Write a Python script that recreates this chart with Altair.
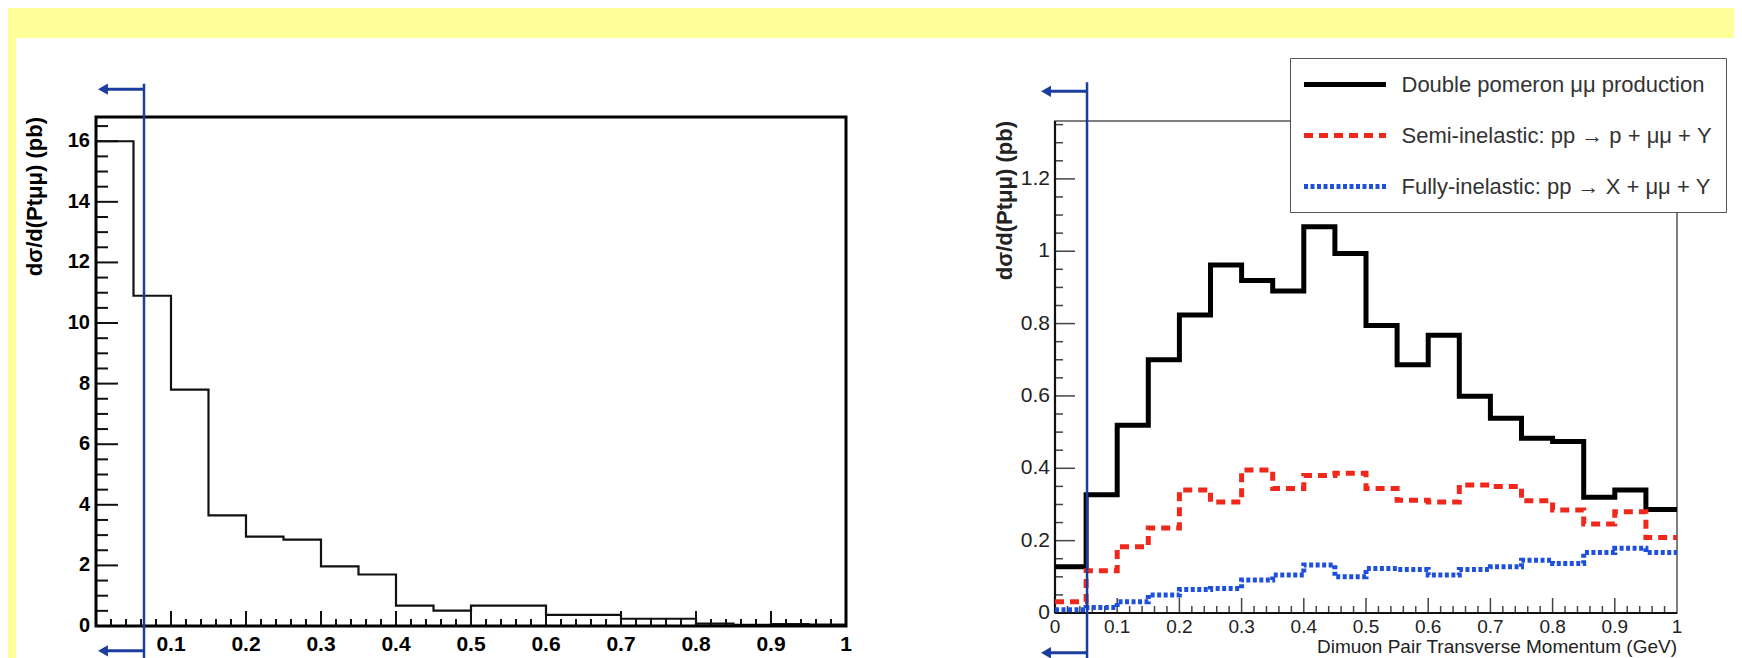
import altair as alt
import pandas as pd

# ---------------- data ----------------
bin_edges = [0.0, 0.05, 0.1, 0.15, 0.2, 0.25, 0.3, 0.35, 0.4, 0.45, 0.5,
             0.55, 0.6, 0.65, 0.7, 0.75, 0.8, 0.85, 0.9, 0.95, 1.0]

# left panel: d(sigma)/d(Pt) in pb, 0.05 GeV bins
left_xsec = [16.0, 10.9, 7.8, 3.65, 2.95, 2.85, 1.97, 1.70, 0.67, 0.51,
             0.67, 0.67, 0.37, 0.37, 0.24, 0.24, 0.08, 0.04, 0.06, 0.05]

# right panel, three processes
dpe_xsec = [0.128, 0.327, 0.519, 0.700, 0.824, 0.962, 0.919, 0.890, 1.068, 0.994,
            0.795, 0.686, 0.768, 0.599, 0.538, 0.483, 0.474, 0.320, 0.340, 0.286]
semi_xsec = [0.031, 0.117, 0.183, 0.235, 0.340, 0.307, 0.395, 0.344, 0.380, 0.386,
             0.344, 0.312, 0.307, 0.354, 0.350, 0.310, 0.285, 0.246, 0.280, 0.209]
full_xsec = [0.009, 0.015, 0.031, 0.050, 0.065, 0.068, 0.091, 0.105, 0.133, 0.100,
             0.123, 0.120, 0.105, 0.120, 0.128, 0.146, 0.137, 0.167, 0.179, 0.167]

series_names = ["Double pomeron \u03bc\u03bc production",
                "Semi-inelastic: pp \u2192 p + \u03bc\u03bc + Y",
                "Fully-inelastic: pp \u2192 X + \u03bc\u03bc + Y"]
series_colors = ["#000000", "#f0281c", "#1e50dc"]
series_dashes = [[1, 0], [9, 6], [4, 2.5]]

left_x_labels = [0.1, 0.2, 0.3, 0.4, 0.5, 0.6, 0.7, 0.8, 0.9, 1.0]
left_y_labels = [0, 2, 4, 6, 8, 10, 12, 14, 16]
right_x_labels = [0, 0.1, 0.2, 0.3, 0.4, 0.5, 0.6, 0.7, 0.8, 0.9, 1.0]
right_y_labels = [0, 0.2, 0.4, 0.6, 0.8, 1.0, 1.2]

x_major_ticks = [0.1, 0.2, 0.3, 0.4, 0.5, 0.6, 0.7, 0.8, 0.9]
x_minor_ticks = [round(i * 0.02, 2) for i in range(1, 50) if i % 5 != 0]
left_y_major_ticks = [2, 4, 6, 8, 10, 12, 14, 16]
left_y_minor_ticks = [i * 0.5 for i in range(1, 34) if i % 4 != 0]
right_y_major_ticks = [0.2, 0.4, 0.6, 0.8, 1.0, 1.2]
right_y_minor_ticks = [round(i * 0.05, 2) for i in range(1, 28) if i % 4 != 0]

cut_left = 0.064     # Pt cut shown by the blue line, left panel
cut_right = 0.0515   # Pt cut shown by the blue line, right panel

y_title = "d\u03c3/d(Pt\u03bc\u03bc) (pb)"
x_title = "Dimuon Pair Transverse Momentum (GeV)"

FONT = "Liberation Sans"
CUT_BLUE = "#1b3d9e"

LEFT_W, RIGHT_W, H = 854, 864, 620
LEFT_YMAX, RIGHT_YMAX = 16.8, 1.36

xs_l = alt.Scale(domain=[0, 1], range=[80, 830], nice=False, zero=False)
ys_l = alt.Scale(domain=[0, LEFT_YMAX], range=[588, 79], nice=False, zero=False)
xs_r = alt.Scale(domain=[0, 1], range=[185, 807], nice=False, zero=False)
ys_r = alt.Scale(domain=[0, RIGHT_YMAX], range=[575, 83], nice=False, zero=False)


def step_frame(values, name):
    return pd.DataFrame({"pt": bin_edges, "xsec": values + [values[-1]], "series": name})


def x_ticks(values, xs, ys, size, thick, color):
    df = pd.DataFrame({"t": values, "b": [0] * len(values)})
    return alt.Chart(df).mark_tick(orient="vertical", size=size, thickness=thick,
                                   color=color, opacity=1, yOffset=-size / 2).encode(
        x=alt.X("t:Q", scale=xs, axis=None), y=alt.Y("b:Q", scale=ys, axis=None))


def y_ticks(values, xs, ys, size, thick, color):
    df = pd.DataFrame({"t": values, "b": [0] * len(values)})
    return alt.Chart(df).mark_tick(orient="horizontal", size=size, thickness=thick,
                                   color=color, opacity=1, xOffset=size / 2).encode(
        x=alt.X("b:Q", scale=xs, axis=None), y=alt.Y("t:Q", scale=ys, axis=None))


def x_labels(values, xs, ys, size, weight, color, dy):
    df = pd.DataFrame({"v": values, "b": [0] * len(values),
                       "txt": ["{:g}".format(v) for v in values]})
    return alt.Chart(df).mark_text(align="center", baseline="top", dy=dy, font=FONT,
                                   fontSize=size, fontWeight=weight, color=color).encode(
        x=alt.X("v:Q", scale=xs, axis=None), y=alt.Y("b:Q", scale=ys, axis=None),
        text="txt:N")


def y_labels(values, xs, ys, size, weight, color, dx):
    df = pd.DataFrame({"v": values, "b": [0] * len(values),
                       "txt": ["{:g}".format(v) for v in values]})
    return alt.Chart(df).mark_text(align="right", baseline="middle", dx=dx, font=FONT,
                                   fontSize=size, fontWeight=weight, color=color).encode(
        x=alt.X("b:Q", scale=xs, axis=None), y=alt.Y("v:Q", scale=ys, axis=None),
        text="txt:N")


def y_title_mark(xs, ys, xpos, ymax, size, color):
    df = pd.DataFrame({"x": [xpos], "y": [ymax], "txt": [y_title]})
    return alt.Chart(df).mark_text(angle=270, align="right", baseline="middle", font=FONT,
                                   fontSize=size, fontWeight="bold", color=color).encode(
        x=alt.X("x:Q", scale=xs, axis=None), y=alt.Y("y:Q", scale=ys, axis=None),
        text="txt:N")


def frame(xs, ys, ymax, color, width):
    df = pd.DataFrame({"x0": [0], "x1": [1], "y0": [0], "y1": [ymax]})
    return alt.Chart(df).mark_rect(fillOpacity=0, stroke=color, strokeWidth=width).encode(
        x=alt.X("x0:Q", scale=xs, axis=None), x2="x1:Q",
        y=alt.Y("y0:Q", scale=ys, axis=None), y2="y1:Q")


def cut_marks(xs, ys, cut, top, bottom, arrow_top, arrow_bottom, arrow_end):
    line = alt.Chart(pd.DataFrame({"c": [cut], "t": [top], "b": [bottom]})).mark_rule(
        color=CUT_BLUE, strokeWidth=2.5).encode(
        x=alt.X("c:Q", scale=xs, axis=None),
        y=alt.Y("t:Q", scale=ys, axis=None), y2="b:Q")
    arr = pd.DataFrame({"c": [cut, cut], "e": [arrow_end, arrow_end],
                        "y": [arrow_top, arrow_bottom]})
    shaft = alt.Chart(arr).mark_rule(color=CUT_BLUE, strokeWidth=3).encode(
        x=alt.X("c:Q", scale=xs, axis=None), x2="e:Q",
        y=alt.Y("y:Q", scale=ys, axis=None))
    head = alt.Chart(arr).mark_point(shape="triangle-left", filled=True, size=130,
                                     color=CUT_BLUE, opacity=1).encode(
        x=alt.X("e:Q", scale=xs, axis=None), y=alt.Y("y:Q", scale=ys, axis=None))
    return [line, shaft, head]


# ---------------- left panel ----------------
left_hist = alt.Chart(step_frame(left_xsec, "left")).mark_line(
    interpolate="step-after", color="#111111", strokeWidth=2.2).encode(
    x=alt.X("pt:Q", scale=xs_l, axis=None),
    y=alt.Y("xsec:Q", scale=ys_l, axis=None),
)

left_layers = [
    x_ticks(x_minor_ticks, xs_l, ys_l, 7, 2, "#111"),
    x_ticks(x_major_ticks, xs_l, ys_l, 15, 2, "#111"),
    y_ticks(left_y_minor_ticks, xs_l, ys_l, 12, 2, "#111"),
    y_ticks(left_y_major_ticks, xs_l, ys_l, 22, 2, "#111"),
    left_hist,
    frame(xs_l, ys_l, LEFT_YMAX, "black", 3),
    x_labels(left_x_labels, xs_l, ys_l, 21, "bold", "black", 8),
    y_labels(left_y_labels, xs_l, ys_l, 20, "bold", "black", -6),
    y_title_mark(xs_l, ys_l, -0.081, LEFT_YMAX, 22, "black"),
] + cut_marks(xs_l, ys_l, cut_left, 17.9, -1.4, 17.72, -0.82, 0.0093)

left = alt.layer(*left_layers).properties(width=LEFT_W, height=H)

# ---------------- right panel ----------------
right_df = pd.concat([step_frame(dpe_xsec, series_names[0]),
                      step_frame(semi_xsec, series_names[1]),
                      step_frame(full_xsec, series_names[2])], ignore_index=True)

legend = alt.Legend(orient="none", legendX=1274, legendY=20, title=None,
                    symbolType="M-4.1,0H4.1", symbolSize=400, symbolStrokeWidth=5,
                    symbolOffset=28.5, labelOffset=44,
                    labelFont=FONT, labelFontSize=22, labelColor="#333333",
                    labelLimit=500, rowPadding=27, padding=14,
                    fillColor="white", strokeColor="#555555")

right_hist = alt.Chart(right_df).mark_line(
    interpolate="step-after", strokeWidth=5, strokeCap="butt").encode(
    x=alt.X("pt:Q", scale=xs_r, axis=None),
    y=alt.Y("xsec:Q", scale=ys_r, axis=None),
    color=alt.Color("series:N", scale=alt.Scale(domain=series_names, range=series_colors),
                    legend=legend),
    strokeDash=alt.StrokeDash("series:N", scale=alt.Scale(domain=series_names,
                                                          range=series_dashes),
                              legend=legend),
    detail="series:N",
)

axis_lines = alt.Chart(pd.DataFrame({"x0": [0, 0], "x1": [0, 1], "y0": [0, 0],
                                     "y1": [RIGHT_YMAX, 0]})).mark_rule(
    color="#111111", strokeWidth=2.2).encode(
    x=alt.X("x0:Q", scale=xs_r, axis=None), x2="x1:Q",
    y=alt.Y("y0:Q", scale=ys_r, axis=None), y2="y1:Q")

x_title_mark = alt.Chart(pd.DataFrame({"x": [1], "y": [0], "txt": [x_title]})).mark_text(
    align="right", baseline="alphabetic", dy=40, font=FONT, fontSize=19,
    color="#222222").encode(
    x=alt.X("x:Q", scale=xs_r, axis=None), y=alt.Y("y:Q", scale=ys_r, axis=None),
    text="txt:N")

right_layers = [
    frame(xs_r, ys_r, RIGHT_YMAX, "#555555", 1.5),
    x_ticks(x_minor_ticks, xs_r, ys_r, 7, 1.5, "#444"),
    x_ticks(x_major_ticks, xs_r, ys_r, 15, 1.5, "#444"),
    y_ticks(right_y_minor_ticks, xs_r, ys_r, 8, 1.5, "#444"),
    y_ticks(right_y_major_ticks, xs_r, ys_r, 20, 1.5, "#444"),
    axis_lines,
    right_hist,
    x_labels(right_x_labels, xs_r, ys_r, 19, "normal", "#222222", 5),
    y_labels(right_y_labels, xs_r, ys_r, 21, "normal", "#222222", -5),
    y_title_mark(xs_r, ys_r, -0.080, RIGHT_YMAX, 22, "#222222"),
    x_title_mark,
] + cut_marks(xs_r, ys_r, cut_right, 1.467, -0.16, 1.442, -0.11, -0.0145)

right = alt.layer(*right_layers).properties(width=RIGHT_W, height=H)

chart = alt.hconcat(left, right, spacing=0, bounds="flush").properties(
    padding={"left": 8, "top": 30, "right": 0, "bottom": 0},
    background="#FFFF99",
).configure(font=FONT).configure_view(fill="white", stroke="white", strokeWidth=0)

chart.save("out.html", embed_options={"renderer": "svg", "actions": False})
